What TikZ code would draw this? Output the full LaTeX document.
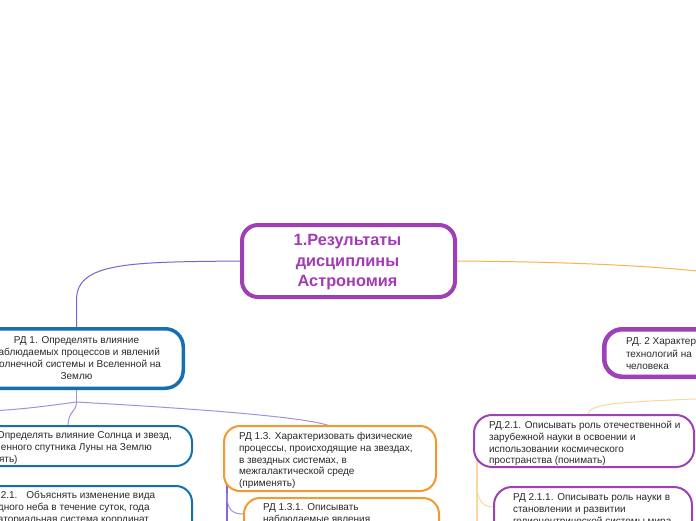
\documentclass[tikz,border=0pt]{standalone}
\usepackage{fontspec}
\setmainfont{Liberation Sans}
\usetikzlibrary{calc}
\pgfdeclarelayer{back}
\pgfdeclarelayer{conn}
\pgfsetlayers{back,conn,main}
\definecolor{rootpur}{HTML}{A13DB6}
\definecolor{roottxt}{HTML}{A23BB4}
\definecolor{rdblue}{HTML}{1470B2}
\definecolor{rdorange}{HTML}{F4982F}
\definecolor{rdpur}{HTML}{9E40B6}
\definecolor{txtgray}{HTML}{2A2A2A}
\definecolor{lnpur}{HTML}{7E60D2}
\definecolor{lnpurl}{HTML}{A58EE2}
\definecolor{lnpurd}{HTML}{8A64D4}
\definecolor{lnora}{HTML}{F6B54C}
\definecolor{lnoral}{HTML}{FAD6A0}
\newcommand\rdfont{\fontsize{10}{11.8}\selectfont}
\newcommand\rdst{\rule{0pt}{8pt}}
\begin{document}
\begin{tikzpicture}[x=1pt,y=-1pt,
  box/.style={draw, fill=white, inner sep=0pt, outer sep=0pt, rounded corners=16pt},
  txt/.style={inner sep=0pt, outer sep=0pt, anchor=north west, align=left, font=\rdfont, text=txtgray},
  conn/.style={line width=1pt, line cap=round}]
\useasboundingbox (0,0) rectangle (696,520);
\begin{pgfonlayer}{back}
\fill[white] (0,0) rectangle (696,520);
\end{pgfonlayer}
\clip (0,0) rectangle (696,520);

% ---------- boxes ----------
\node[box, draw=rootpur, line width=4pt, minimum width=213pt, minimum height=72pt,
  align=center, text=roottxt, font=\fontsize{16.3}{20.5}\selectfont\bfseries]
  (root) at (348.5,261) {};
\node[inner sep=0pt, align=center, text=roottxt, font=\fontsize{16.3}{20.5}\selectfont\bfseries]
  (roott) at ($(root.center)+(-1,1.5)$) {1.Результаты\\дисциплины\\ Астрономия};

\node[box, draw=rdblue, line width=3.5pt, minimum width=213.5pt, minimum height=59.5pt,
  rounded corners=18pt, align=center, font=\fontsize{10}{12}\selectfont, text=txtgray]
  (rd1) at (76.5,358.5) {РД 1. Определять влияние\\наблюдаемых процессов и явлений\\Солнечной системы и Вселенной на\\Землю};

\node[box, draw=rdpur, line width=4.5pt, minimum width=220pt, minimum height=47.5pt,
  rounded corners=18pt] (rd2) at (714.25,353) {};
\node[txt, font=\fontsize{10}{12.5}\selectfont] (rd2t) at (626,336.5)
  {\rdst РД. 2 Характер\\технологий на\\человека};

\node[box, draw=rdblue, line width=2pt, minimum width=248pt, minimum height=40pt]
  (rd12) at (68,446) {};
\node[txt] (rd12t) at (-3,430.5)
  {\rdst Определять влияние Солнца и звезд,\\\hspace*{4pt}енного спутника Луны на Землю\\\hspace*{2pt}ять)};

\node[box, draw=rdblue, line width=2pt, minimum width=248pt, minimum height=74pt]
  (rd121) at (68,523) {};
\node[txt] (rd121t) at (-2,490.5)
  {\rdst .2.1.\hspace{9pt}Объяснять изменение вида\\дного неба в течение суток, года\\аториальная система координат};

\node[box, draw=rdorange, line width=2pt, minimum width=212pt, minimum height=65pt]
  (rd13) at (330,458.5) {};
\node[txt] (rd13t) at (239,431.5)
  {\rdst РД 1.3. Характеризовать физические\\процессы, происходящие на звездах,\\в звездных системах, в\\межгалактической среде\\(применять)};

\node[box, draw=rdorange, line width=2pt, minimum width=195pt, minimum height=72pt]
  (rd131) at (341.5,534) {};
\node[txt] (rd131t) at (263,502.5)
  {\rdst РД 1.3.1. Описывать\\наблюдаемые явления};

\node[box, draw=rdpur, line width=2pt, minimum width=220pt, minimum height=52pt,
  rounded corners=18pt] (rd21) at (584,441) {};
\node[txt] (rd21t) at (489,420.5)
  {\rdst РД.2.1. Описывать роль отечественной и\\зарубежной науки в освоении и\\использовании космического\\пространства (понимать)};

\node[box, draw=rdpur, line width=2pt, minimum width=198pt, minimum height=73pt,
  rounded corners=18pt] (rd211) at (593,523.5) {};
\node[txt] (rd211t) at (513,492.5)
  {\rdst РД 2.1.1. Описывать роль науки в\\становлении и развитии\\гелиоцентрической системы мира};

% ---------- connectors ----------
\begin{pgfonlayer}{conn}
\clip (0,0) rectangle (696,520);
\coordinate (rd2in) at (760,280);
\draw[conn, lnora] (root.east) .. controls (600,262) and (700,268) .. (rd2in);
\draw[conn, lnpur] (root.west) .. controls (130,262) and (76.5,262) .. (76.5,300) -- (rd1.north);

\coordinate (rd1hub) at (76.5,402);
\coordinate (rd11in) at (-10,411);
\draw[conn, lnpurl] (rd1.south) -- (rd1hub);
\draw[conn, lnpurl] (rd1hub) .. controls (60,404) and (30,409) .. (rd11in);
\draw[conn, lnpurl] (rd1hub) .. controls (76.5,412) and (68,411) .. (rd12.north);
\draw[conn, lnpurl] (rd1hub) .. controls (110,404) and (300,414) .. (rd13.north);

\coordinate (t13top) at (227,470);
\coordinate (t13bot) at (227,530);
\coordinate (t13br) at (227,494);
\draw[line width=2pt, lnpurd] (t13top) -- (t13bot);
\draw[conn, lnpurl] (t13br) .. controls (227,510) and (232,514) .. ($(rd131.north west)+(0,16)$);

\coordinate (rd2hub) at (720,398);
\draw[conn, lnoral] (rd2hub) .. controls (620,402) and (588,403) .. ([xshift=4pt]rd21.north);

\coordinate (t21top) at (477,455);
\coordinate (t21bot) at (477,530);
\coordinate (t21br) at (477,483);
\draw[line width=2pt, lnoral] (t21top) -- (t21bot);
\draw[conn, lnoral] (t21br) .. controls (477,500) and (482,507) .. ($(rd211.north west)+(0,20)$);
\end{pgfonlayer}
\end{tikzpicture}
\end{document}
